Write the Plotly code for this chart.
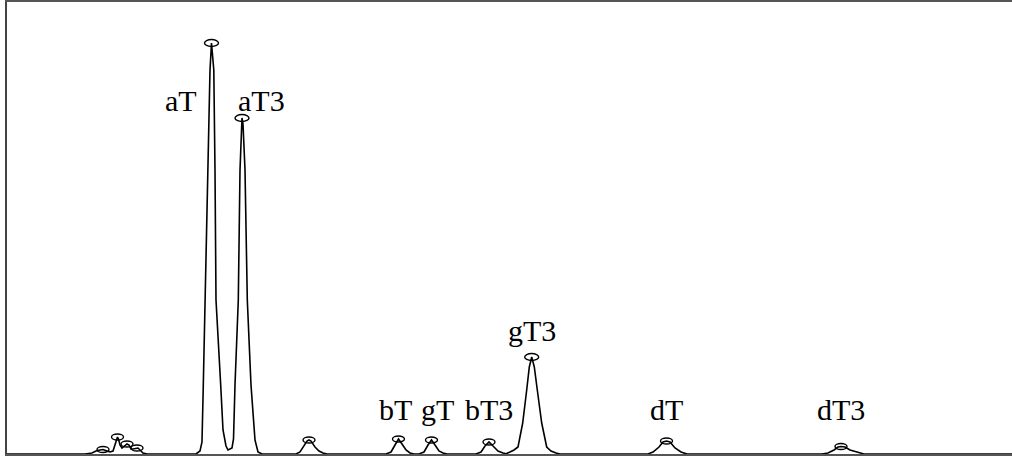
import plotly.graph_objects as go

# Chromatogram trace (retention position, detector signal)
rt = [7, 85, 92, 96, 100, 103, 107, 110, 113, 115, 116.5, 117.5, 118.5, 120, 122, 124, 127, 129, 131, 133, 136, 138, 140, 143, 147,
      196, 200, 202, 203.3, 205, 208.3, 210, 211.5, 213.8, 215, 216, 220.7, 223, 226, 228,
      232, 233.5, 235, 238.3, 240, 241.2, 242, 243, 245, 247.3, 251, 255, 258, 262,
      296, 300, 304, 307, 309, 311, 315, 319, 323, 327,
      386, 391, 395, 398.5, 402, 406, 410, 414,
      419, 424, 428, 431.5, 435, 439, 443, 447,
      476, 481, 485, 489, 493, 498, 503, 507,
      505.5, 510, 514, 518, 522.7, 526.7, 529.3, 531.7, 534.3, 537.3, 541.7, 546.7, 551, 556, 560,
      648, 653, 659, 663, 666.5, 670, 675, 681, 687,
      822, 828, 834, 838, 841, 845, 850, 857, 864, 1030]
signal = [0, 0, 1, 3, 4, 4.5, 3, 2, 3, 10, 16, 17, 15, 9, 6, 8, 10, 9, 5, 5, 6, 6, 4, 1, 0,
          0, 3, 12, 69, 154, 284, 384, 411, 384, 284, 154, 69, 24, 8, 4,
          6, 15, 69, 154, 284, 330, 336, 330, 284, 154, 69, 14, 2, 0,
          0, 2, 8, 13, 14, 13, 7, 3, 1, 0,
          0, 2, 9, 15, 10, 4, 1, 0,
          0, 2, 9, 14, 9, 3, 1, 0,
          0, 2, 8, 12, 8, 3, 1, 0,
          0, 2, 4, 7, 31, 64, 87, 97, 87, 64, 31, 7, 3, 1, 0,
          0, 2, 7, 12, 13, 12, 6, 2, 0,
          0, 1, 4, 7, 7.5, 7, 4, 2, 0, 0]

# Integrated peak apexes (marked with small ellipses)
apex_rt = [103, 117.5, 127, 137, 211.5, 242, 309, 398.5, 431.5, 489, 531.7, 666.5, 841]
apex_signal = [4.5, 17, 10, 6, 411, 336, 14, 15, 14, 12, 97, 13, 7.5]

# Named peaks
peak_names = ["aT", "aT3", "bT", "gT", "bT3", "gT3", "dT", "dT3"]
peak_rt = [211.5, 242, 398.5, 431.5, 489, 531.7, 666.5, 841]
peak_signal = [411, 336, 15, 14, 12, 97, 13, 7.5]

label_offsets = {  # (xshift, yshift) in px relative to the apex
    "aT": (-31, -57), "aT3": (19, 18), "bT": (-3, 30), "gT": (6, 31),
    "bT3": (0, 33), "gT3": (0, 27), "dT": (0, 32), "dT3": (0, 37),
}

fig = go.Figure()
fig.add_trace(go.Scatter(x=rt, y=signal, mode="lines",
                         line=dict(color="black", width=1.6), hoverinfo="skip",
                         showlegend=False))

shapes = []
for x, y in zip(apex_rt, apex_signal):
    big = y > 50
    hw = 7 if big else 6
    hh = 3.5 if big else 3
    shapes.append(dict(type="circle", xref="x", yref="y",
                       x0=x - hw, x1=x + hw, y0=y - hh, y1=y + hh,
                       line=dict(color="black", width=1.4), fillcolor="rgba(0,0,0,0)"))

annotations = []
for name, x, y in zip(peak_names, peak_rt, peak_signal):
    dx, dy = label_offsets[name]
    annotations.append(dict(x=x, y=y, xref="x", yref="y", text=name, showarrow=False,
                            xshift=dx, yshift=dy,
                            font=dict(family="Liberation Serif", size=30, color="black")))

fig.update_layout(
    width=1030, height=456,
    margin=dict(l=7, r=0, t=2, b=2),
    paper_bgcolor="white", plot_bgcolor="white",
    shapes=shapes, annotations=annotations,
    xaxis=dict(range=[7, 1030], showgrid=False, zeroline=False, showticklabels=False,
               ticks="", showline=True, mirror=True, linecolor="#555555", linewidth=2),
    yaxis=dict(range=[0, 452], showgrid=False, zeroline=False, showticklabels=False,
               ticks="", showline=True, mirror=False, linecolor="#444444", linewidth=2),
)

fig.write_html("out.html", config={"displayModeBar": False},
               post_script="document.body.style.margin='0';document.body.style.overflow='hidden';")
